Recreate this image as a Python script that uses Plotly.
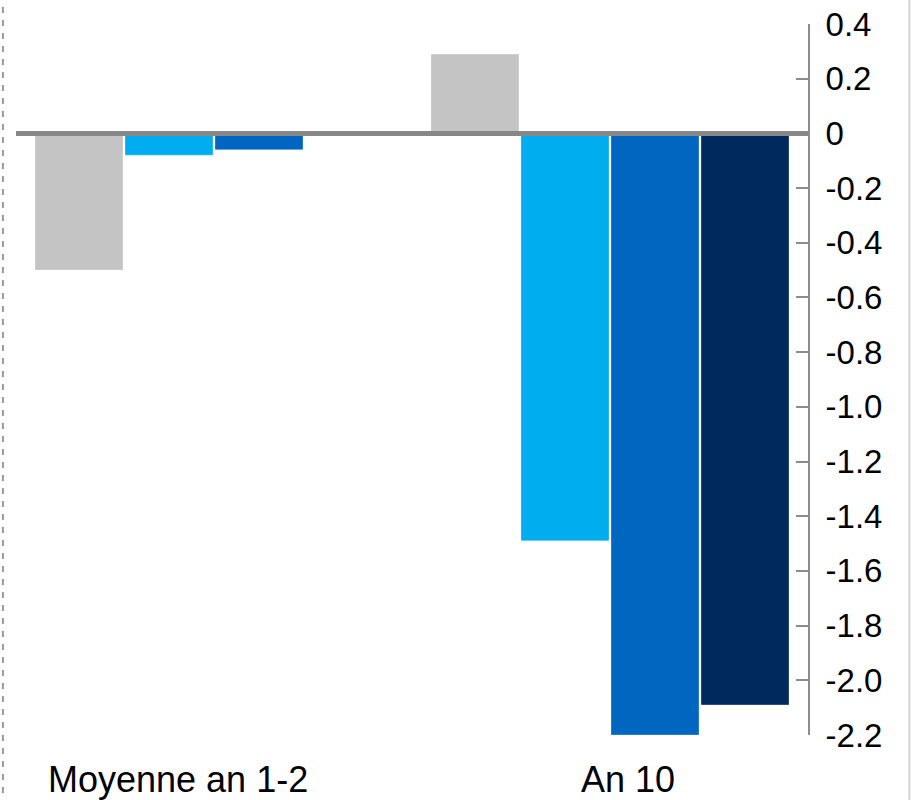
import plotly.graph_objects as go

# Categories and series values
categories = ["Moyenne an 1-2", "An 10"]
series_names = ["Série 1", "Série 2", "Série 3", "Série 4"]
serie_1 = [-0.50, 0.29]
serie_2 = [-0.08, -1.49]
serie_3 = [-0.06, -2.20]
serie_4 = [0.0, -2.09]
tick_values = [0.4, 0.2, 0, -0.2, -0.4, -0.6, -0.8, -1.0, -1.2, -1.4, -1.6, -1.8, -2.0, -2.2]
tick_labels = ["0.4", "0.2", "0", "-0.2", "-0.4", "-0.6", "-0.8", "-1.0", "-1.2", "-1.4",
               "-1.6", "-1.8", "-2.0", "-2.2"]

colors = ["#C4C4C4", "#00AEEF", "#0066BF", "#002A5E"]
FONT = "Liberation Sans, Arial, sans-serif"

fig = go.Figure()
for name, vals, col in zip(series_names, [serie_1, serie_2, serie_3, serie_4], colors):
    fig.add_trace(go.Bar(
        x=categories, y=vals, name=name,
        marker=dict(color=col, line=dict(color="rgba(255,255,255,0.6)", width=0.5)),
        hoverinfo="x+y",
    ))

# Thick zero baseline drawn over the bars
fig.add_shape(type="line", xref="x", yref="y", x0=-0.5, x1=1.5, y0=0, y1=0,
              line=dict(color="#878787", width=5), layer="above")

# Frame: dashed left edge, thin right edge
fig.add_shape(type="line", xref="paper", yref="paper", x0=-0.0165, x1=-0.0165,
              y0=-0.1, y1=1.04, line=dict(color="#9a9a9a", width=2, dash="6px,7px"))
fig.add_shape(type="line", xref="paper", yref="paper", x0=1.128, x1=1.128,
              y0=-0.1, y1=1.04, line=dict(color="#d4d4d4", width=2))

# Category labels
label_shift = [-36, 18]
for cat, dx in zip(categories, label_shift):
    fig.add_annotation(x=cat, xref="x", y=0, yref="paper", yshift=-44, xshift=dx,
                       text=cat, showarrow=False, yanchor="middle", xanchor="center",
                       font=dict(family=FONT, size=36, color="#000000"))

fig.update_layout(
    width=911, height=800,
    margin=dict(l=16, r=103, t=24, b=65),
    paper_bgcolor="white", plot_bgcolor="white",
    barmode="group", bargap=0.0909, bargroupgap=0.022,
    showlegend=False,
    font=dict(family=FONT, color="#000000"),
    xaxis=dict(range=[-0.5, 1.5], showticklabels=False, showgrid=False,
               zeroline=False, showline=False, ticks="", automargin=False),
    yaxis=dict(side="right", range=[-2.2, 0.4], tickvals=tick_values, ticktext=tick_labels,
               showgrid=False, zeroline=False, showline=True, linecolor="#8c8c8c",
               linewidth=2, ticks="inside", ticklen=12, tickwidth=2, tickcolor="#8c8c8c",
               ticklabelstandoff=9, automargin=False,
               tickfont=dict(family=FONT, size=33, color="#000000")),
)

fig.write_html("out.html")
